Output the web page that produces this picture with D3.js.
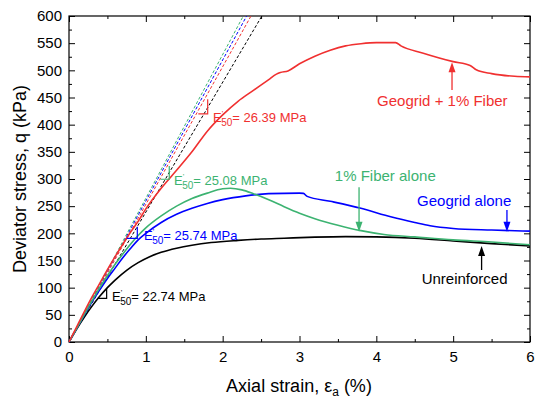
<!DOCTYPE html>
<html>
<head>
<meta charset="utf-8">
<script src="https://cdn.jsdelivr.net/npm/d3@7"></script>
<style>
  body { margin: 0; background: #fff; }
  text { font-family: Arial, "Liberation Sans", sans-serif; }
</style>
</head>
<body>
<svg width="541" height="401"></svg>
<script>
// stress-strain curves, [axial strain %, deviator stress kPa]
var unreinforced = [[0,0],[0.1,24],[0.2,46],[0.3,66],[0.4,84],[0.5,100],[0.6,114],[0.75,132],[0.9,146],
  [1.05,157],[1.2,165],[1.4,172.5],[1.6,178],[1.85,183],[2.2,187],[2.5,189.5],[2.8,191],[3.2,193],
  [3.6,194],[4.0,193.5],[4.5,191],[5.0,186],[5.5,181],[6.0,177]];
var geogridAlone = [[0,0],[0.1,25],[0.2,50],[0.3,74],[0.4,96],[0.5,117],[0.6,136],[0.7,155],[0.8,172],
  [0.9,188],[1.0,200],[1.2,220],[1.4,235],[1.6,246],[1.8,255],[2.0,262],[2.3,269],[2.6,273],[3.0,274],
  [3.05,273.5],[3.1,268],[3.4,259],[3.8,246],[4.2,230],[4.5,220],[4.7,214],[5.0,209],[5.5,206],[6.0,204]];
var fiberAlone = [[0,0],[0.1,25],[0.2,51],[0.3,76],[0.4,100],[0.5,122],[0.6,143],[0.7,162],[0.8,180],
  [0.9,196],[1.0,210],[1.2,232],[1.4,250],[1.6,264],[1.8,274],[2.0,282],[2.1,283],[2.25,280],[2.4,273],
  [2.6,262],[2.8,249],[3.0,237],[3.2,227],[3.5,215],[3.8,205],[4.1,198],[4.5,193.5],[5.0,188],
  [5.5,184],[6.0,179]];
var geogridFiber = [[0,0],[0.1,28],[0.2,56],[0.3,83],[0.4,108],[0.5,133],[0.6,157],[0.7,180],[0.8,202],
  [0.9,222],[1.0,245],[1.2,283],[1.4,316],[1.6,350],[1.8,388],[2.0,418],[2.2,443],[2.4,463],[2.6,483],
  [2.7,493],[2.75,496],[2.85,499],[3.0,512],[3.2,526],[3.4,537],[3.6,545],[3.8,549],[4.0,551],
  [4.25,551],[4.32,545],[4.6,532],[5.0,516],[5.22,509],[5.3,501],[5.5,494],[5.8,489],[6.0,488]];

// tangent slopes (kPa per % strain) and secant moduli labels
var tangentSlopes = [239, 259.5, 264.5, 253.3];
var e50Values = ["22.74", "25.74", "25.08", "26.39"];
var curveNames = ["Unreinforced", "Geogrid alone", "1% Fiber alone", "Geogrid + 1% Fiber"];

var xTicks = [0, 1, 2, 3, 4, 5, 6];
var yTicks = d3.range(0, 601, 50);

var series = [unreinforced, geogridAlone, fiberAlone, geogridFiber];
var colors = ["#000000", "#0000ff", "#3cb371", "#f03030"];

var svg = d3.select("svg");

var x = d3.scaleLinear().domain([0, 6]).range([69, 530]);
var y = d3.scaleLinear().domain([0, 600]).range([342, 16]);

// axes, ticks pointing inward on all four sides
function styleAxis(g) {
  g.select(".domain").remove();
  g.selectAll("line").attr("stroke", "#000");
  g.selectAll("text").attr("fill", "#000").style("font-size", "15px").style("font-family", "Arial, 'Liberation Sans', sans-serif");
}

svg.append("g").attr("transform", "translate(0,342)")
  .call(d3.axisBottom(x).tickValues(xTicks).tickSize(-6).tickPadding(9).tickFormat(d3.format("d")))
  .call(styleAxis);
svg.append("g").attr("transform", "translate(0,342)")
  .call(d3.axisBottom(x).tickValues(d3.range(0.5, 6, 1)).tickSize(-3).tickFormat(""))
  .call(styleAxis);
svg.append("g").attr("transform", "translate(0,16)")
  .call(d3.axisTop(x).tickValues(xTicks).tickSize(-6).tickFormat(""))
  .call(styleAxis);
svg.append("g").attr("transform", "translate(0,16)")
  .call(d3.axisTop(x).tickValues(d3.range(0.5, 6, 1)).tickSize(-3).tickFormat(""))
  .call(styleAxis);

svg.append("g").attr("transform", "translate(69,0)")
  .call(d3.axisLeft(y).tickValues(yTicks).tickSize(-6).tickPadding(7))
  .call(styleAxis);
svg.append("g").attr("transform", "translate(69,0)")
  .call(d3.axisLeft(y).tickValues(d3.range(25, 600, 50)).tickSize(-3).tickFormat(""))
  .call(styleAxis);
svg.append("g").attr("transform", "translate(530,0)")
  .call(d3.axisRight(y).tickValues(yTicks).tickSize(-6).tickFormat(""))
  .call(styleAxis);
svg.append("g").attr("transform", "translate(530,0)")
  .call(d3.axisRight(y).tickValues(d3.range(25, 600, 50)).tickSize(-3).tickFormat(""))
  .call(styleAxis);

svg.append("rect")
  .attr("x", 69).attr("y", 16).attr("width", 461).attr("height", 326)
  .attr("fill", "none").attr("stroke", "#000").attr("stroke-width", 1.2);

// axis titles
var xt = svg.append("text").attr("x", 299).attr("y", 392)
  .attr("text-anchor", "middle").style("font-size", "18px");
xt.append("tspan").text("Axial strain, ");
xt.append("tspan").text("ε");
xt.append("tspan").attr("dy", 4).style("font-size", "12px").text("a");
xt.append("tspan").attr("dy", -4).text(" (%)");

svg.append("text")
  .attr("transform", "translate(26,179) rotate(-90)")
  .attr("text-anchor", "middle").style("font-size", "18px")
  .text("Deviator stress, q (kPa)");

var plot = svg.append("g");

// dashed tangent lines
plot.selectAll("line.tangent")
  .data(tangentSlopes)
  .enter().append("line")
    .attr("class", "tangent")
    .attr("x1", x(0)).attr("y1", y(0))
    .attr("x2", function(d) { return x(600 / d); })
    .attr("y2", y(600))
    .attr("stroke", function(d, i) { return colors[i]; })
    .attr("stroke-width", 1)
    .attr("stroke-dasharray", "3,2");

var line = d3.line()
  .x(function(d) { return x(d[0]); })
  .y(function(d) { return y(d[1]); })
  .curve(d3.curveMonotoneX);

plot.selectAll("path.curve")
  .data(series)
  .enter().append("path")
    .attr("class", "curve")
    .attr("d", line)
    .attr("fill", "none")
    .attr("stroke", function(d, i) { return colors[i]; })
    .attr("stroke-width", 1.6);

// slope brackets [x0, x1, yBottom, yTop]
var brackets = [[0.373, 0.49, 80.4, 98.8], [0.751, 0.889, 190.9, 212.2],
                [1.19, 1.305, 299.5, 324], [1.683, 1.805, 419.7, 446.7]];
plot.selectAll("path.bracket")
  .data(brackets)
  .enter().append("path")
    .attr("class", "bracket")
    .attr("d", function(d) {
      return "M" + x(d[0]) + "," + y(d[2]) + "H" + x(d[1]) + "V" + y(d[3]);
    })
    .attr("fill", "none")
    .attr("stroke", function(d, i) { return colors[i]; })
    .attr("stroke-width", 1.2);

// E'50 labels [x, y] in data units
var e50Pos = [[0.56, 75.5], [0.976, 188], [1.367, 289], [1.874, 405]];
e50Pos.forEach(function(p, i) {
  var t = svg.append("text").attr("x", x(p[0])).attr("y", y(p[1]))
    .attr("fill", colors[i]).style("font-size", "13px");
  t.append("tspan").text("E");
  t.append("tspan").attr("dy", -6).style("font-size", "8px").text("'");
  t.append("tspan").attr("dx", -2).attr("dy", 10).style("font-size", "10px").text("50");
  t.append("tspan").attr("dy", -4).text("= " + e50Values[i] + " MPa");
});

// curve names with arrows: label [x, y], arrow [x, tailY, tipY]
var namePos = [[4.59, 107], [4.53, 250], [3.46, 296], [4.01, 434]];
var arrows = [[5.37, 132.5, 176.7], [5.70, 243, 203], [3.775, 285, 203], [4.985, 463.8, 515]];

svg.selectAll("text.name")
  .data(curveNames)
  .enter().append("text")
    .attr("class", "name")
    .attr("x", function(d, i) { return x(namePos[i][0]); })
    .attr("y", function(d, i) { return y(namePos[i][1]); })
    .attr("fill", function(d, i) { return colors[i]; })
    .style("font-size", "15px")
    .text(function(d) { return d; });

arrows.forEach(function(a, i) {
  var ax = x(a[0]), y1 = y(a[1]), y2 = y(a[2]);
  var dir = y2 < y1 ? 1 : -1;
  svg.append("line")
    .attr("x1", ax).attr("y1", y1).attr("x2", ax).attr("y2", y2 + dir * 6)
    .attr("stroke", colors[i]).attr("stroke-width", 1.3);
  svg.append("path")
    .attr("d", "M" + ax + "," + y2 + "L" + (ax - 3.5) + "," + (y2 + dir * 10) +
               "L" + (ax + 3.5) + "," + (y2 + dir * 10) + "Z")
    .attr("fill", colors[i]);
});
</script>
</body>
</html>
